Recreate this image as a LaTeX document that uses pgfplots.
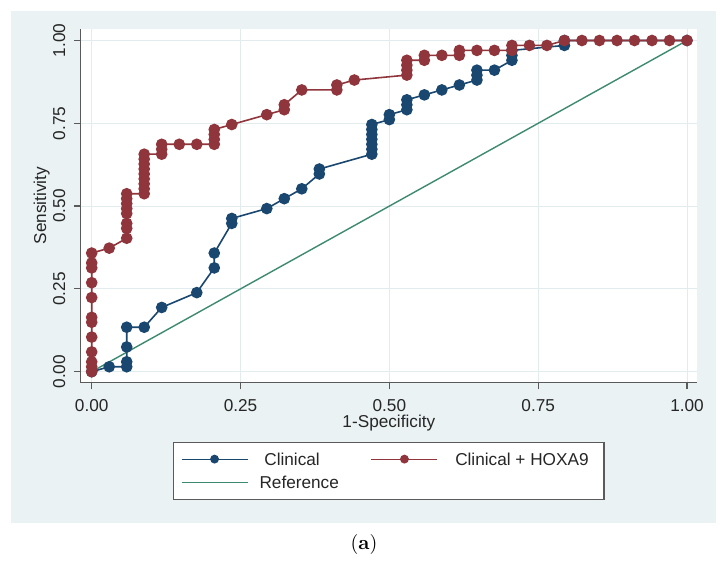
\documentclass[border=0pt]{standalone}
\usepackage{fontspec}
\usepackage{pgfplots}
\pgfplotsset{compat=1.18}
\newfontfamily\arial{Liberation Sans}
\definecolor{bgcol}{RGB}{234,242,243}
\definecolor{gridcol}{RGB}{226,236,239}
\definecolor{navy}{RGB}{26,71,111}
\definecolor{maroon}{RGB}{144,53,59}
\definecolor{refgreen}{RGB}{62,138,112}
\definecolor{axiscol}{RGB}{90,90,90}
\newcommand{\lab}{\arial\fontsize{8.6}{10}\selectfont}

\begin{document}
\begin{tikzpicture}
\fill[white] (0,0) rectangle (364pt,-280.5pt);
\fill[bgcol] (5.5pt,-5.5pt) rectangle (358pt,-261.5pt);
\begin{axis}[
  at={(40.35pt,-191.35pt)}, anchor=south west,
  scale only axis, width=308.15pt, height=176.7pt,
  xmin=-0.01848, xmax=1.0168, ymin=-0.0332, ymax=1.0338,
  axis background/.style={fill=white},
  axis x line*=bottom, axis y line*=left,
  axis line style={-, draw=axiscol, line width=0.6pt},
  xtick={0,0.25,0.5,0.75,1}, ytick={0,0.25,0.5,0.75,1},
  xticklabels={0.00,0.25,0.50,0.75,1.00},
  yticklabels={0.00,0.25,0.50,0.75,1.00},
  xtick pos=left, ytick pos=left,
  tick align=outside, major tick length=3.3pt,
  tick style={draw=axiscol, line width=0.6pt},
  grid=major, major grid style={draw=gridcol, line width=0.5pt},
  tick label style={font=\lab, text=black!85},
  xticklabel style={anchor=north, inner sep=0pt, outer sep=5.15pt},
  yticklabel style={rotate=90, anchor=south, inner sep=0pt, outer sep=4.4pt},
  xlabel={1-Specificity}, ylabel={Sensitivity},
  xlabel style={at={(axis description cs:0.5,-0.114)}, anchor=center, font=\lab, text=black!85},
  ylabel style={at={(axis description cs:-0.0633,0.501)}, anchor=center, font=\lab, text=black!85},
  legend columns=2, legend cell align=left,
  legend style={at={(axis description cs:0.5,-0.1664)}, anchor=north,
    draw=axiscol, line width=0.6pt, fill=white,
    inner xsep=3.65pt, inner ysep=5.4pt, column sep=0pt, row sep=5.45pt,
    font=\lab, text=black!85,
    nodes={inner sep=0pt, text height=6.2pt, text depth=0pt, anchor=west}},
  legend image code/.code={\draw[mark repeat=2, mark phase=2, #1, line width=0.6pt, mark size=1.9pt]
    plot coordinates {(0pt,0pt) (16.5pt,0pt) (33pt,0pt)};},
]
% Clinical
\addplot[navy, line width=0.8pt, mark=*, mark size=2.5pt, mark options={fill=navy, draw=navy}] coordinates {
(0,0) (0.0294,0.0149) (0.0588,0.0149) (0.0588,0.0299) (0.0588,0.0746) (0.0588,0.1343)
(0.0882,0.1343) (0.1176,0.1940) (0.1765,0.2388) (0.2059,0.3134) (0.2059,0.3582)
(0.2353,0.4478) (0.2353,0.4627) (0.2941,0.4925) (0.3235,0.5224) (0.3529,0.5522)
(0.3824,0.5970) (0.3824,0.6119) (0.4706,0.6567) (0.4706,0.6716) (0.4706,0.6866)
(0.4706,0.7015) (0.4706,0.7164) (0.4706,0.7313) (0.4706,0.7463) (0.5,0.7612) (0.5,0.7761)
(0.5294,0.7910) (0.5294,0.8060) (0.5294,0.8209) (0.5588,0.8358) (0.5882,0.8507)
(0.6176,0.8657) (0.6471,0.8806) (0.6471,0.8955) (0.6471,0.9104) (0.6765,0.9104)
(0.7059,0.9403) (0.7059,0.9552) (0.7059,0.9701) (0.7941,0.9851) (0.7941,1) (1,1)};
\addlegendentry{\makebox[61.35pt][l]{\hspace{8.1pt}Clinical}}
% Clinical + HOXA9
\addplot[maroon, line width=0.8pt, mark=*, mark size=2.5pt, mark options={fill=maroon, draw=maroon}] coordinates {
(0,0) (0,0.0149) (0,0.0299) (0,0.0597) (0,0.1045) (0,0.1493) (0,0.1642) (0,0.2239)
(0,0.2687) (0,0.3134) (0,0.3284) (0,0.3582) (0.0294,0.3731) (0.0588,0.4030) (0.0588,0.4328)
(0.0588,0.4478) (0.0588,0.4776) (0.0588,0.4925) (0.0588,0.5075) (0.0588,0.5224) (0.0588,0.5373)
(0.0882,0.5373) (0.0882,0.5522) (0.0882,0.5672) (0.0882,0.5821) (0.0882,0.5970) (0.0882,0.6119)
(0.0882,0.6269) (0.0882,0.6418) (0.0882,0.6567) (0.1176,0.6567) (0.1176,0.6716) (0.1176,0.6866)
(0.1471,0.6866) (0.1765,0.6866) (0.2059,0.6866) (0.2059,0.7015) (0.2059,0.7164) (0.2059,0.7313)
(0.2353,0.7463) (0.2941,0.7761) (0.3235,0.7910) (0.3235,0.8060) (0.3529,0.8507) (0.4118,0.8507)
(0.4118,0.8657) (0.4412,0.8806) (0.5294,0.8955) (0.5294,0.9104) (0.5294,0.9254) (0.5294,0.9403)
(0.5588,0.9403) (0.5588,0.9552) (0.5882,0.9552) (0.6176,0.9552) (0.6176,0.9701) (0.6471,0.9701)
(0.6765,0.9701) (0.7059,0.9701) (0.7059,0.9851) (0.7353,0.9851) (0.7647,0.9851) (0.7941,1)
(0.8235,1) (0.8529,1) (0.8824,1) (0.9118,1) (0.9412,1) (0.9706,1) (1,1)};
\addlegendentry{\makebox[79.35pt][l]{\hspace{8.6pt}Clinical + HOXA9}}
% Reference
\addplot[refgreen, line width=0.7pt, no marks] coordinates {(0,0) (1,1)};
\addlegendentry{\makebox[61.35pt][l]{\hspace{5.7pt}Reference}}
\end{axis}
\node[font=\fontsize{10}{12}\selectfont] at (182pt,-272.5pt) {(\textbf{a})};
\end{tikzpicture}
\end{document}
